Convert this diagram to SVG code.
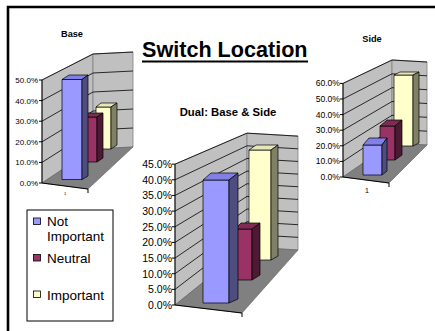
<svg xmlns="http://www.w3.org/2000/svg" width="435" height="331" viewBox="0 0 435 331">
<style>
text{font-family:"Liberation Sans",Arial,sans-serif;fill:#000}
.wall{fill:#c0c0c0;stroke:#808080;stroke-width:0.8}
.floor{fill:#808080;stroke:#606060;stroke-width:0.6}
.grid{fill:none;stroke:#000;stroke-width:0.8}
.axis{fill:none;stroke:#000;stroke-width:1}
.edge{stroke:#000;stroke-width:0.7;stroke-linejoin:round}
.bf{fill:#9999ff}.bt{fill:#8080e6}.bs{fill:#4d4d80}
.mf{fill:#993366}.mt{fill:#802b55}.ms{fill:#4d1a33}
.yf{fill:#ffffcc}.yt{fill:#e6e6b8}.ys{fill:#808066}
.t1{font-size:8px;text-anchor:end}
.t2{font-size:8.6px;text-anchor:end}
.t3{font-size:10.5px;text-anchor:end}
.ct{font-weight:bold;text-anchor:middle}
.lg{font-size:13.5px}
</style>
<path d="M8,331 V7 H435" fill="none" stroke="#000" stroke-width="2.6"/>

<g id="title">
<text x="142" y="57" style="font-size:21.6px;font-weight:bold">Switch Location</text>
<line x1="142" y1="61.5" x2="308" y2="61.5" stroke="#000" stroke-width="2"/>
</g>

<!-- Base chart -->
<g id="chart-base">
<text class="ct" x="72" y="37" style="font-size:9.2px">Base</text>
<polygon class="wall" points="42,80 93,54 93,149 42,183"/>
<polygon class="wall" points="93,54 133,52 133,147 93,149"/>
<polygon class="floor" points="42,183 93,149 133,147 88,189"/>
<g class="grid">
<polyline points="42,162.4 93,130 133,128"/>
<polyline points="42,141.8 93,111 133,109"/>
<polyline points="42,121.2 93,92 133,90"/>
<polyline points="42,100.6 93,73 133,71"/>
<polyline points="42,80 93,54 133,52"/>
</g>
<g class="axis">
<line x1="42" y1="80" x2="42" y2="183"/>
<line x1="39" y1="183" x2="42" y2="183"/><line x1="39" y1="162.4" x2="42" y2="162.4"/><line x1="39" y1="141.8" x2="42" y2="141.8"/><line x1="39" y1="121.2" x2="42" y2="121.2"/><line x1="39" y1="100.6" x2="42" y2="100.6"/><line x1="39" y1="80" x2="42" y2="80"/>
<line x1="42" y1="183" x2="88" y2="189"/>
<line x1="88" y1="189" x2="88" y2="193"/>
</g>
<text class="t1" x="38" y="186">0.0%</text>
<text class="t1" x="38" y="165.4">10.0%</text>
<text class="t1" x="38" y="144.8">20.0%</text>
<text class="t1" x="38" y="124.2">30.0%</text>
<text class="t1" x="38" y="103.6">40.0%</text>
<text class="t1" x="38" y="83">50.0%</text>
<text x="65" y="195" style="font-size:4px" text-anchor="middle">1</text>
<g class="edge">
<polygon class="yf" points="96,107 111,107 111,149 96,149"/>
<polygon class="yt" points="96,107 101,103 117,103 111,107"/>
<polygon class="ys" points="111,107 117,103 117,145 111,149"/>
<polygon class="mf" points="82,117 97,117 97,162 82,162"/>
<polygon class="mt" points="82,117 88,113 103,113 97,117"/>
<polygon class="ms" points="97,117 103,113 103,158 97,162"/>
<polygon class="bf" points="62,79.5 82,79.5 82,179.5 62,179.5"/>
<polygon class="bt" points="62,79.5 69,75 88,75 82,79.5"/>
<polygon class="bs" points="82,79.5 88,75 88,176 82,179.5"/>
</g>
</g>

<!-- Side chart -->
<g id="chart-side">
<text class="ct" x="372" y="42" style="font-size:9.2px">Side</text>
<polygon class="wall" points="343,83.4 392,60 392,143 343,177"/>
<polygon class="wall" points="392,60 427,62 427,145 392,143"/>
<polygon class="floor" points="343,177 392,143 427,145 389,183"/>
<g class="grid">
<polyline points="343,161.4 392,129.2 427,131.2"/>
<polyline points="343,145.8 392,115.3 427,117.3"/>
<polyline points="343,130.2 392,101.5 427,103.5"/>
<polyline points="343,114.6 392,87.7 427,89.7"/>
<polyline points="343,99 392,73.8 427,75.8"/>
<polyline points="343,83.4 392,60 427,62"/>
</g>
<g class="axis">
<line x1="343" y1="83.4" x2="343" y2="177"/>
<line x1="340" y1="177" x2="343" y2="177"/><line x1="340" y1="161.4" x2="343" y2="161.4"/><line x1="340" y1="145.8" x2="343" y2="145.8"/><line x1="340" y1="130.2" x2="343" y2="130.2"/><line x1="340" y1="114.6" x2="343" y2="114.6"/><line x1="340" y1="99" x2="343" y2="99"/><line x1="340" y1="83.4" x2="343" y2="83.4"/>
<line x1="343" y1="177" x2="389" y2="183"/>
<line x1="389" y1="183" x2="389" y2="187"/>
</g>
<text class="t2" x="340" y="180">0.0%</text>
<text class="t2" x="340" y="164.4">10.0%</text>
<text class="t2" x="340" y="148.8">20.0%</text>
<text class="t2" x="340" y="133.2">30.0%</text>
<text class="t2" x="340" y="117.6">40.0%</text>
<text class="t2" x="340" y="102">50.0%</text>
<text class="t2" x="340" y="86.4">60.0%</text>
<text x="367" y="193" style="font-size:7px" text-anchor="middle">1</text>
<g class="edge">
<polygon class="yf" points="394,75 413,75 413,146 394,146"/>
<polygon class="yt" points="394,75 400,72 419,72 413,75"/>
<polygon class="ys" points="413,75 419,72 419,143 413,146"/>
<polygon class="mf" points="380,126 395,126 395,160 380,160"/>
<polygon class="mt" points="380,126 387,120 402,120 395,126"/>
<polygon class="ms" points="395,126 402,120 402,155 395,160"/>
<polygon class="bf" points="363,145 382,145 382,175 363,175"/>
<polygon class="bt" points="363,145 369,138 387,138 382,145"/>
<polygon class="bs" points="382,145 387,138 387,171 382,175"/>
</g>
</g>

<!-- Dual chart -->
<g id="chart-dual">
<text class="ct" x="228" y="116" style="font-size:11.3px">Dual: Base &amp; Side</text>
<polygon class="wall" points="175,164.15 247,133.15 247,247 175,305"/>
<polygon class="wall" points="247,133.15 298,136.15 298,250 247,247"/>
<polygon class="floor" points="175,305 247,247 298,250 242,313"/>
<g class="grid">
<polyline points="175,289.35 247,234.35 298,237.35"/>
<polyline points="175,273.7 247,221.7 298,224.7"/>
<polyline points="175,258.05 247,209.05 298,212.05"/>
<polyline points="175,242.4 247,196.4 298,199.4"/>
<polyline points="175,226.75 247,183.75 298,186.75"/>
<polyline points="175,211.1 247,171.1 298,174.1"/>
<polyline points="175,195.45 247,158.45 298,161.45"/>
<polyline points="175,179.8 247,145.8 298,148.8"/>
<polyline points="175,164.15 247,133.15 298,136.15"/>
</g>
<g class="axis">
<line x1="175" y1="164.15" x2="175" y2="305"/>
<line x1="172" y1="305" x2="175" y2="305"/><line x1="172" y1="289.35" x2="175" y2="289.35"/><line x1="172" y1="273.7" x2="175" y2="273.7"/><line x1="172" y1="258.05" x2="175" y2="258.05"/><line x1="172" y1="242.4" x2="175" y2="242.4"/><line x1="172" y1="226.75" x2="175" y2="226.75"/><line x1="172" y1="211.1" x2="175" y2="211.1"/><line x1="172" y1="195.45" x2="175" y2="195.45"/><line x1="172" y1="179.8" x2="175" y2="179.8"/><line x1="172" y1="164.15" x2="175" y2="164.15"/>
<line x1="175" y1="305" x2="242" y2="313"/>
<line x1="242" y1="313" x2="242" y2="317"/>
</g>
<text class="t3" x="172" y="309">0.0%</text>
<text class="t3" x="172" y="293.35">5.0%</text>
<text class="t3" x="172" y="277.7">10.0%</text>
<text class="t3" x="172" y="262.05">15.0%</text>
<text class="t3" x="172" y="246.4">20.0%</text>
<text class="t3" x="172" y="230.75">25.0%</text>
<text class="t3" x="172" y="215.1">30.0%</text>
<text class="t3" x="172" y="199.45">35.0%</text>
<text class="t3" x="172" y="183.8">40.0%</text>
<text class="t3" x="172" y="168.15">45.0%</text>
<g class="edge">
<polygon class="yf" points="249,150 271,150 271,260 249,260"/>
<polygon class="yt" points="249,150 256,145 278,145 271,150"/>
<polygon class="ys" points="271,150 278,145 278,256 271,260"/>
<polygon class="mf" points="235,229 252,229 252,280 235,280"/>
<polygon class="mt" points="235,229 241,223 260,223 252,229"/>
<polygon class="ms" points="252,229 260,223 260,275 252,280"/>
<polygon class="bf" points="203,180 229,180 229,303 203,303"/>
<polygon class="bt" points="203,180 211,173 238,173 229,180"/>
<polygon class="bs" points="229,180 238,173 238,299 229,303"/>
</g>
</g>

<g id="legend">
<rect x="27" y="210" width="86" height="111" fill="#fff" stroke="#000" stroke-width="1"/>
<rect class="bf" x="33.5" y="218" width="7" height="6.5" stroke="#000" stroke-width="0.8"/>
<text class="lg" x="47" y="226">Not</text>
<text class="lg" x="47" y="241">Important</text>
<rect class="mf" x="33.5" y="254.5" width="7" height="6.5" stroke="#000" stroke-width="0.8"/>
<text class="lg" x="47" y="263">Neutral</text>
<rect class="yf" x="33.5" y="291" width="7" height="6.5" stroke="#000" stroke-width="0.8"/>
<text class="lg" x="47" y="300">Important</text>
</g>
</svg>
